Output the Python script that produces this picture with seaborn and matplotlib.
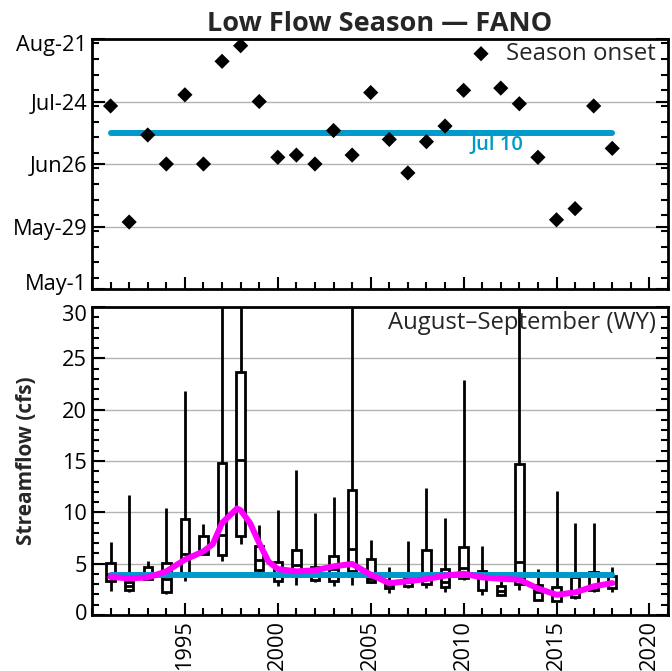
import numpy as np
import pandas as pd
import matplotlib
matplotlib.use("Agg")
import matplotlib.pyplot as plt
import matplotlib.transforms as mtransforms
from matplotlib.ticker import MultipleLocator, FixedLocator
import seaborn as sns

# water years
years = list(range(1991, 2019))

# low flow season onset, day of year (2011 not shown)
onset_doy = [203, 151, 190, 177, 208, 177, 223, 230, 205, 180, 181, 177, 192, 181,
             209, 188, 173, 187, 194, 210, np.nan, 211, 204, 180, 152, 157, 203, 184]
onset_median_doy = 191
onset_median_label = "Jul 10"
date_ticks = [121, 149, 177, 205, 233]
date_labels = ["May-1", "May-29", "Jun26", "Jul-24", "Aug-21"]

# August-September streamflow summary per year (cfs)
flow_min = [2.36, 2.27, 3.44, 2.07, 3.34, 5.8, 5.3, 6.95, 4.22, 2.85, 2.92, 3.17, 2.79, 2.92,
            3.08, 2.14, 2.59, 2.63, 2.27, 3.44, 1.94, 1.81, 2.46, 1.42, 1.32, 1.58, 2.27, 2.2]
flow_q1 = [3.27, 2.46, 3.5, 2.27, 3.93, 5.98, 5.88, 7.73, 4.41, 3.34, 3.93, 3.37, 3.3, 4.32,
           3.2, 2.59, 2.79, 3.05, 2.72, 3.6, 2.46, 1.9, 3.02, 1.48, 1.39, 1.71, 2.46, 2.63]
flow_med = [4.02, 2.79, 4.02, 3.5, 5.98, 6.05, 7.77, 15.1, 5.32, 3.83, 4.83, 3.93, 4.48, 6.43,
            3.5, 2.95, 3.17, 3.83, 3.17, 4.58, 3.9, 2.36, 5.13, 2.2, 2.04, 2.36, 2.88, 3.11]
flow_q3 = [5.03, 3.17, 4.7, 5.03, 9.33, 7.67, 14.8, 23.7, 6.72, 5.2, 6.3, 4.7, 5.78, 12.2,
           5.5, 3.27, 3.57, 6.34, 4.48, 6.59, 4.25, 2.85, 14.67, 2.88, 2.75, 3.7, 4.15, 3.83]
flow_max = [7.1, 11.7, 5.22, 10.44, 21.8, 8.87, 38.0, 45.0, 8.74, 10.2, 14.1, 9.95, 11.5, 34.0,
            7.34, 4.68, 7.25, 12.4, 9.46, 22.9, 6.73, 3.27, 40.0, 4.48, 12.1, 8.97, 8.97, 4.68]

# smoothed trend of flows
smooth_years = [1991, 1992, 1993, 1994, 1995, 1996, 1996.5, 1997, 1997.8, 1998, 1998.5,
                1999, 1999.5, 2000, 2001, 2002, 2003, 2004, 2005, 2006, 2007, 2008, 2009,
                2010, 2011, 2012, 2013, 2014, 2015, 2016, 2017, 2018]
smooth_flow = [3.7, 3.57, 3.66, 4.25, 5.39, 6.2, 6.9, 8.97, 10.37, 10.2, 8.97,
               7.0, 5.2, 4.48, 4.25, 4.35, 4.74, 4.97, 3.93, 3.1, 3.29, 3.5, 3.83,
               4.02, 3.66, 3.53, 3.44, 2.59, 1.97, 2.2, 2.79, 3.11]
flow_median_all = 3.85

BLUE = "#0099CC"

sns.set_style("white")
plt.rcParams["font.family"] = ["Open Sans", "DejaVu Sans"]

fig = plt.figure(figsize=(6.72, 6.71), dpi=100)
W, H = 672, 671
ax1 = fig.add_axes([92 / W, 1 - 289 / H, 576 / W, 250 / H])
ax2 = fig.add_axes([92 / W, 1 - 615 / H, 576 / W, 308 / H])

# --- top panel: season onset
for d in date_ticks[1:-1]:
    ax1.axhline(d, color="#b3b3b3", lw=1, zorder=0)
sns.lineplot(x=[years[0], years[-1]], y=[onset_median_doy] * 2, color=BLUE, lw=4.3,
             ax=ax1, zorder=2)
ax1.lines[-1].set_solid_capstyle("round")
ax1.text(2011.8, onset_median_doy - 1.0, onset_median_label, color=BLUE, fontsize=14.5,
         fontweight="semibold", ha="center", va="top")
sns.scatterplot(x=years, y=onset_doy, marker="D", s=60, color="black", edgecolor="none",
                label="Season onset", ax=ax1, zorder=3)
ax1.legend(loc="upper right", bbox_to_anchor=(1 - 7.2 / 576, 1 + 1.8 / 250),
           frameon=False, fontsize=17.3, handlelength=1.0,
           handletextpad=0.55, borderaxespad=0, borderpad=0.2)
ax1.set_ylim(date_ticks[0], date_ticks[-1])
ax1.yaxis.set_major_locator(FixedLocator(date_ticks))
ax1.set_yticklabels(date_labels)
ax1.yaxis.set_minor_locator(MultipleLocator(7))
ax1.set_title("Low Flow Season \u2014 FANO", fontsize=19.5, fontweight="bold", pad=6)

# --- bottom panel: Aug-Sep streamflow
for v in [5, 10, 15, 20, 25]:
    ax2.axhline(v, color="#b3b3b3", lw=1, zorder=0)
box_df = pd.DataFrame({
    "year": np.repeat(years, 5),
    "flow": np.column_stack([flow_min, flow_q1, flow_med, flow_q3, flow_max]).ravel(),
})
sns.boxplot(data=box_df, x="year", y="flow", native_scale=True, whis=(0, 100),
            width=0.45, color="white", linecolor="black", linewidth=2,
            showcaps=False, ax=ax2, zorder=1)
sns.lineplot(x=[years[0], years[-1]], y=[flow_median_all] * 2, color=BLUE, lw=4.3,
             ax=ax2, zorder=4)
ax2.lines[-1].set_solid_capstyle("round")
sns.lineplot(x=smooth_years, y=smooth_flow, color="#FF00FF", lw=4.3, ax=ax2, zorder=5)
ax2.lines[-1].set_solid_capstyle("round")
ax2.text(0.979, 0.949, "August\u2013September (WY)", transform=ax2.transAxes,
         ha="right", va="center", fontsize=17.2)
ax2.set_ylim(0, 30)
ax2.yaxis.set_major_locator(MultipleLocator(5))
ax2.yaxis.set_minor_locator(MultipleLocator(1))
ax2.set_ylabel("Streamflow (cfs)", fontsize=15, fontweight="bold", labelpad=18)
ax2.set_xlabel("")

for ax in (ax1, ax2):
    ax.set_xlim(1990, 2021)
    ax.xaxis.set_major_locator(MultipleLocator(5))
    ax.xaxis.set_minor_locator(MultipleLocator(1))
    ax.tick_params(which="both", direction="in", left=True, right=True, bottom=True,
                   top=False, width=1.5, labelsize=15.7, colors="black")
    ax.tick_params(which="major", length=9)
    ax.tick_params(which="minor", length=5)
    for s in ax.spines.values():
        s.set_linewidth(2)
        s.set_color("black")

ax1.tick_params(labelbottom=False)
ax2.set_xticks([1995, 2000, 2005, 2010, 2015, 2020])
ax2.set_xticklabels(["1995", "2000", "2005", "2010", "2015", "2020"], rotation=90)
ax2.set_xlim(1990, 2021)

# edge tick labels sit a little inside the axes range
def nudge(label, dy_px):
    label.set_transform(label.get_transform() +
                        mtransforms.ScaledTranslation(0, dy_px / 100, fig.dpi_scale_trans))

fig.canvas.draw()
lab1 = ax1.get_yticklabels()
nudge(lab1[0], 7)
nudge(lab1[-1], -3.5)
lab2 = ax2.get_yticklabels()
for lab in lab2:
    if lab.get_text() == "0":
        nudge(lab, 2.7)
    elif lab.get_text() == "30":
        nudge(lab, -6.4)

fig.savefig("out.png", dpi=100)
